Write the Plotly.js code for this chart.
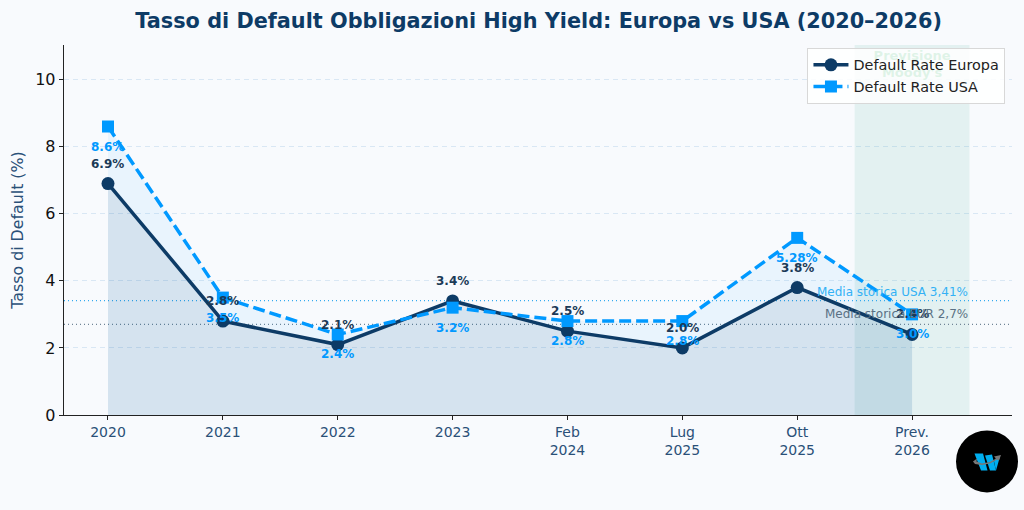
<!DOCTYPE html>
<html><head><meta charset="utf-8">
<script src="https://cdn.plot.ly/plotly-3.0.1.min.js"></script>
<style>html,body{margin:0;padding:0;background:#F8FAFD}</style></head>
<body><div id="chart" style="width:1024px;height:510px"></div>
<script>
const positions = [0,1,2,3,4,5,6,7];
const tickLabels = ["2020","2021","2022","2023","Feb<br>2024","Lug<br>2025","Ott<br>2025","Prev.<br>2026"];
const europa = [6.9,2.8,2.1,3.4,2.5,2.0,3.8,2.4];
const usa = [8.6,3.5,2.4,3.2,2.8,2.8,5.28,3.0];
const europaLabels = ["6.9%","2.8%","2.1%","3.4%","2.5%","2.0%","3.8%","2.4%"];
const usaLabels = ["8.6%","3.5%","2.4%","3.2%","2.8%","2.8%","5.28%","3.0%"];
const mediaUsa = 3.41, mediaEur = 2.7;
const NAVY="#0D3B66", BLUE="#0099FF", FONT="DejaVu Sans";

const traces = [
 {x:[7],y:[10.43],type:"scatter",mode:"text",text:["<b>Previsione</b><br><b>Moody's</b>"],textposition:"middle center",textfont:{family:FONT,size:13,color:"#27AE60"},showlegend:false,hoverinfo:"skip",cliponaxis:false},
 {x:positions,y:usa,name:"USA area",type:"scatter",mode:"none",fill:"tozeroy",fillcolor:"rgba(0,153,255,0.06)",showlegend:false,hoverinfo:"skip"},
 {x:positions,y:europa,name:"Europa area",type:"scatter",mode:"none",fill:"tozeroy",fillcolor:"rgba(13,59,102,0.09)",showlegend:false,hoverinfo:"skip"},
 {x:positions,y:europa,name:"Default Rate Europa",type:"scatter",mode:"lines+markers",line:{color:NAVY,width:3.5},marker:{color:NAVY,size:13,symbol:"circle"}},
 {x:positions,y:usa,name:"Default Rate USA",type:"scatter",mode:"lines+markers",line:{color:BLUE,width:3.5,dash:"12px,5px"},marker:{color:BLUE,size:12,symbol:"square"}}
];
const anns = [];
positions.forEach((p,i)=>{
 anns.push({x:p,y:europa[i],xref:"x",yref:"y",text:"<b>"+europaLabels[i]+"</b>",showarrow:false,yshift:20,font:{family:FONT,size:12,color:"#1B3A57"}});
 anns.push({x:p,y:usa[i],xref:"x",yref:"y",text:"<b>"+usaLabels[i]+"</b>",showarrow:false,yshift:-20,font:{family:FONT,size:12,color:BLUE}});
});
anns.push({x:7.5,y:mediaUsa,xref:"x",yref:"y",xanchor:"right",text:"Media storica USA 3,41%",showarrow:false,yshift:9,font:{family:FONT,size:12,color:"#33B1F5"}});
anns.push({x:7.5,y:mediaEur,xref:"x",yref:"y",xanchor:"right",text:"Media storica EUR 2,7%",showarrow:false,yshift:10,font:{family:FONT,size:12,color:"#5A7184"}});

const W=948,H=370.5,L=64,B=415.5;
const px=x=>((x-L)/W).toFixed(5), py=y=>((B-y)/H).toFixed(5);
const poly=(pts,close=true)=>pts.map((p,i)=>(i?"L":"M")+px(p[0])+","+py(p[1])).join(" ")+(close?" Z":"");
const hl=(y,c)=>({type:"line",xref:"paper",x0:0,x1:1,yref:"y",y0:y,y1:y,line:{color:c,width:1.2,dash:"1px,3px"},layer:"below"});
const logoPart=(pts,c)=>({type:"path",xref:"paper",yref:"paper",path:poly(pts),fillcolor:c,line:{width:0},layer:"above"});
const shapes=[
 {type:"rect",xref:"x",x0:6.5,x1:7.5,yref:"paper",y0:0,y1:1,fillcolor:"rgba(20,150,120,0.09)",line:{width:0},layer:"below"},
 hl(mediaUsa,"#33AAF0"),hl(mediaEur,"#6F8496"),
 {type:"circle",xref:"paper",yref:"paper",x0:px(956),x1:px(1018),y0:py(493),y1:py(431),fillcolor:"#000",line:{width:0},layer:"above"},
 logoPart([[974.5,454],[983,454],[987.5,471],[981,471]],"#00AEEF"),
 logoPart([[985,456],[992,455],[996,471],[990,471]],"#00AEEF"),
 logoPart([[994,462],[997,457],[1000,457],[996,471]],"#00AEEF"),
 logoPart([[973,462],[977,459],[976.5,462],[982,464],[990,462.5],[996,459],[994,457],[1001,455.5],[999,461],[997,460],[990,464],[982,465.5],[975,464.5]],"#777")
];
const layout={
 width:1024,height:510,paper_bgcolor:"#F8FAFD",plot_bgcolor:"#F8FAFD",
 margin:{l:64,r:12,t:45,b:94.5},
 title:{text:"<b>Tasso di Default Obbligazioni High Yield: Europa vs USA (2020–2026)</b>",font:{family:FONT,size:20.8,color:"#0D3B66"},x:0.526,xanchor:"center",y:0.96,yanchor:"middle"},
 xaxis:{range:[-0.383,7.87],tickmode:"array",tickvals:positions,ticktext:tickLabels,showgrid:false,zeroline:false,showline:true,linecolor:"#222",linewidth:1.3,ticks:"outside",ticklen:4,tickcolor:"#222",tickfont:{family:FONT,size:14,color:"#2A5078"}},
 yaxis:{range:[0,11.03],tickvals:[0,2,4,6,8,10],showgrid:true,gridcolor:"rgba(30,120,190,0.14)",griddash:"5px,4px",gridwidth:1,zeroline:false,showline:true,linecolor:"#222",linewidth:1.3,ticks:"outside",ticklen:4,tickcolor:"#222",tickfont:{family:FONT,size:16,color:"#111"},title:{text:"Tasso di Default (%)",font:{family:FONT,size:15.8,color:"#2A5078"},standoff:7}},
 legend:{x:0.9931,xanchor:"right",y:0.992,yanchor:"top",bgcolor:"rgba(255,255,255,0.85)",bordercolor:"#D8D8D8",borderwidth:1,font:{family:FONT,size:14.4,color:"#222"},itemwidth:35,tracegroupgap:0},
 annotations:anns,shapes:shapes,showlegend:true,hovermode:false
};
Plotly.newPlot("chart",traces,layout,{displayModeBar:false,staticPlot:true});
</script></body></html>
